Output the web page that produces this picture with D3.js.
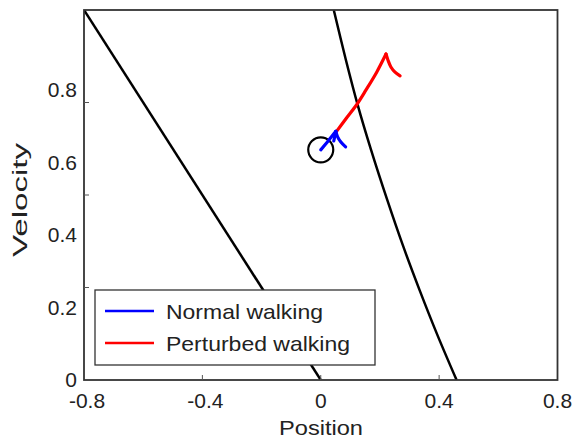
<!DOCTYPE html>
<html>
<head>
<meta charset="utf-8">
<script src="https://cdn.jsdelivr.net/npm/d3@7"></script>
<style>
  body { margin: 0; background: #fff; }
  text { font-family: "Liberation Sans", Arial, sans-serif; fill: #222; }
</style>
</head>
<body>
<div id="container"></div>
<script>
// data
var xTickLabels = [-0.8, -0.4, 0, 0.4, 0.8];
var xTickMarks = [-0.4, 0, 0.4];
var yTickLabels = [0, 0.2, 0.4, 0.6, 0.8];
var yTickMarks = [0.25, 0.5, 0.75];

var leftBoundary = [[-0.8, 1.0], [0, 0]];
var rightBoundary = [[0.044, 1.0], [0.085, 0.865], [0.125, 0.743], [0.170, 0.622], [0.225, 0.486],
                     [0.277, 0.365], [0.334, 0.243], [0.394, 0.122], [0.459, 0]];

var fixedPoint = [0, 0.622];

var normalWalking = [[0, 0.622], [0.025, 0.646], [0.051, 0.672]];
var normalHook = [[0.051, 0.672], [0.057, 0.657], [0.068, 0.643], [0.084, 0.630]];
var normalStub = [[0.051, 0.672], [0.044, 0.646]];
var perturbedWalking = [[0.0515, 0.670], [0.087, 0.708], [0.123, 0.746], [0.153, 0.784], [0.189, 0.832], [0.2205, 0.881]];
var perturbedHook = [[0.2205, 0.881], [0.227, 0.865], [0.237, 0.846], [0.251, 0.832], [0.268, 0.822]];

var legendNames = ["Normal walking", "Perturbed walking"];
var legendColors = ["#0000ff", "#ff0000"];

const width = 574;
const height = 438;
const pLeft = 84, pRight = 557.5, pTop = 10, pBottom = 380;

const svg = d3.select("#container")
  .append("svg")
  .attr("width", width)
  .attr("height", height);

var x = d3.scaleLinear().domain([-0.8, 0.8]).range([pLeft, pRight]);
var y = d3.scaleLinear().domain([0, 1]).range([pBottom, pTop]);
// tick labels in the figure sit on a slightly tighter spacing than the marks
var yLab = d3.scaleLinear().domain([0, 1]).range([pBottom, 17.5]);

svg.append("defs").append("clipPath").attr("id", "clip")
  .append("rect")
  .attr("x", pLeft).attr("y", pTop)
  .attr("width", pRight - pLeft).attr("height", pBottom - pTop);

var line = d3.line()
  .x(d => x(d[0]))
  .y(d => y(d[1]));

var curvy = d3.line()
  .x(d => x(d[0]))
  .y(d => y(d[1]))
  .curve(d3.curveCatmullRom);

var plot = svg.append("g").attr("clip-path", "url(#clip)");

plot.append("path")
  .attr("d", line(leftBoundary))
  .attr("fill", "none")
  .attr("stroke", "#000")
  .attr("stroke-width", 2.5);

plot.append("path")
  .attr("d", curvy(rightBoundary))
  .attr("fill", "none")
  .attr("stroke", "#000")
  .attr("stroke-width", 2.5);

plot.append("circle")
  .attr("cx", x(fixedPoint[0]))
  .attr("cy", y(fixedPoint[1]))
  .attr("r", 12.5)
  .attr("fill", "none")
  .attr("stroke", "#000")
  .attr("stroke-width", 2.2);

function drawTrace(data, color) {
  plot.append("path")
    .attr("d", curvy(data))
    .attr("fill", "none")
    .attr("stroke", color)
    .attr("stroke-width", 3.2)
    .attr("stroke-linecap", "round")
    .attr("stroke-linejoin", "round");
}

drawTrace(perturbedWalking, legendColors[1]);
drawTrace(perturbedHook, legendColors[1]);
drawTrace(normalWalking, legendColors[0]);
drawTrace(normalHook, legendColors[0]);
drawTrace(normalStub, legendColors[0]);

// frame
svg.append("rect")
  .attr("x", pLeft).attr("y", pTop)
  .attr("width", pRight - pLeft).attr("height", pBottom - pTop)
  .attr("fill", "none")
  .attr("stroke", "#333")
  .attr("stroke-width", 1.8);

// inward tick marks
svg.append("g").selectAll("line")
  .data(xTickMarks).enter().append("line")
  .attr("x1", d => x(d)).attr("x2", d => x(d))
  .attr("y1", pBottom).attr("y2", pBottom - 5)
  .attr("stroke", "#555").attr("stroke-width", 1);

svg.append("g").selectAll("line")
  .data(yTickMarks).enter().append("line")
  .attr("x1", pLeft).attr("x2", pLeft + 5)
  .attr("y1", d => y(d)).attr("y2", d => y(d))
  .attr("stroke", "#555").attr("stroke-width", 1);

// tick labels (plain hyphen, as in the figure)
svg.append("g").selectAll("text")
  .data(xTickLabels).enter().append("text")
  .attr("x", d => x(d) + (d < 0 ? 3 : 0))
  .attr("y", 408)
  .attr("text-anchor", "middle")
  .style("font-size", "21px")
  .text(d => String(d));

svg.append("g").selectAll("text")
  .data(yTickLabels).enter().append("text")
  .attr("x", 77)
  .attr("y", d => yLab(d))
  .attr("dy", "0.35em")
  .attr("text-anchor", "end")
  .style("font-size", "21px")
  .text(d => String(d));

// axis titles
svg.append("text")
  .attr("x", 321)
  .attr("y", 435)
  .attr("text-anchor", "middle")
  .attr("textLength", 84)
  .attr("lengthAdjust", "spacingAndGlyphs")
  .style("font-size", "21px")
  .text("Position");

svg.append("text")
  .attr("transform", "translate(27,200) rotate(-90)")
  .attr("text-anchor", "middle")
  .attr("textLength", 114)
  .attr("lengthAdjust", "spacingAndGlyphs")
  .style("font-size", "21px")
  .text("Velocity");

// legend
var legend = svg.append("g").attr("id", "legend");

legend.append("rect")
  .attr("x", 95).attr("y", 290)
  .attr("width", 280).attr("height", 75)
  .attr("fill", "#fff")
  .attr("stroke", "#333")
  .attr("stroke-width", 1.3);

var textLengths = [157, 184];

legendNames.forEach(function (name, i) {
  var ly = 311 + i * 32;
  legend.append("line")
    .attr("x1", 105).attr("x2", 154)
    .attr("y1", ly).attr("y2", ly)
    .attr("stroke", legendColors[i])
    .attr("stroke-width", 2.5);
  legend.append("text")
    .attr("x", 166)
    .attr("y", ly + 7.5)
    .attr("textLength", textLengths[i])
    .attr("lengthAdjust", "spacingAndGlyphs")
    .style("font-size", "21px")
    .text(name);
});
</script>
</body>
</html>
